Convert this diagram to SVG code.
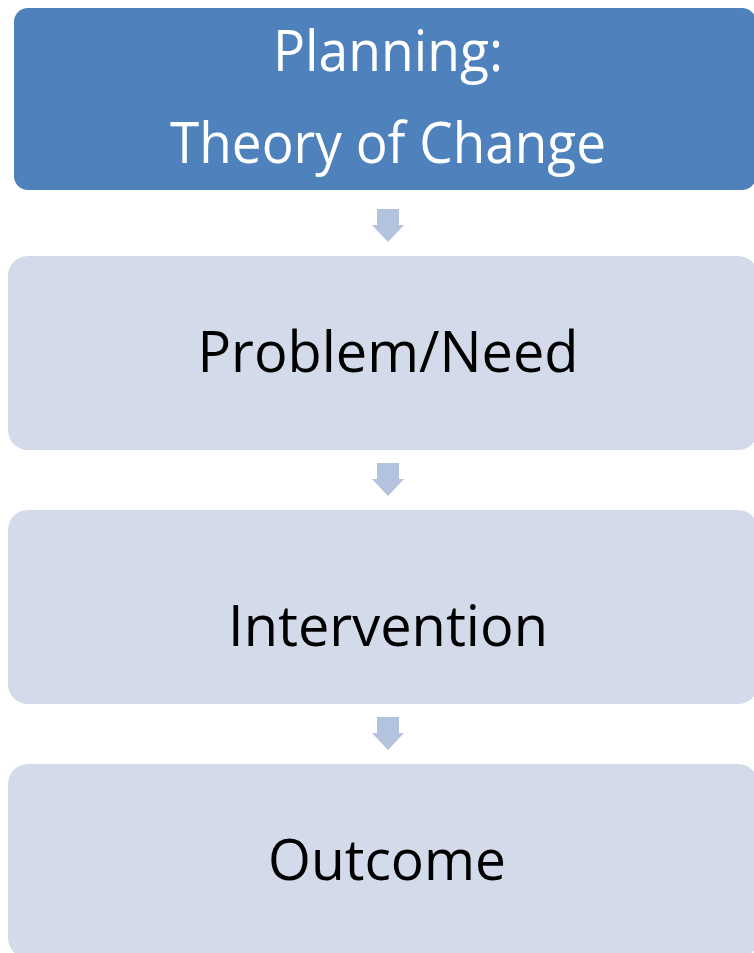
<svg xmlns="http://www.w3.org/2000/svg" width="754" height="953" viewBox="0 0 754 953">
<style>
.top{fill:#4F81BD;}
.box{fill:#D3DBEA;}
.arr{fill:#B3C2DD;}
text{font-family:"Open Sans","Liberation Sans",sans-serif;font-size:56px;text-anchor:middle;}
.w{fill:#FFFFFF;}
.k{fill:#000000;}
</style>
<rect width="754" height="953" fill="#FFFFFF"/>
<g id="connectors">
<path class="arr" d="M377,209 H399 V225 H404 L388,242 L372,225 H377 Z"/>
<path class="arr" d="M377,463 H399 V479 H404 L388,496 L372,479 H377 Z"/>
<path class="arr" d="M377,717 H399 V733 H404 L388,750 L372,733 H377 Z"/>
</g>
<g id="planning">
<rect class="top" x="14" y="8" width="742" height="182" rx="14"/>
<text class="w" x="388" y="71" textLength="230" lengthAdjust="spacingAndGlyphs">Planning:</text>
<text class="w" x="388" y="163" textLength="436" lengthAdjust="spacingAndGlyphs">Theory of Change</text>
</g>
<g id="problem">
<rect class="box" x="8" y="256" width="750" height="194" rx="20"/>
<text class="k" x="388" y="372" textLength="381" lengthAdjust="spacingAndGlyphs">Problem/Need</text>
</g>
<g id="intervention">
<rect class="box" x="8" y="510" width="750" height="194" rx="20"/>
<text class="k" x="388" y="646" textLength="320" lengthAdjust="spacingAndGlyphs">Intervention</text>
</g>
<g id="outcome">
<rect class="box" x="8" y="764" width="750" height="194" rx="20"/>
<text class="k" x="387" y="880" textLength="238" lengthAdjust="spacingAndGlyphs">Outcome</text>
</g>
</svg>
